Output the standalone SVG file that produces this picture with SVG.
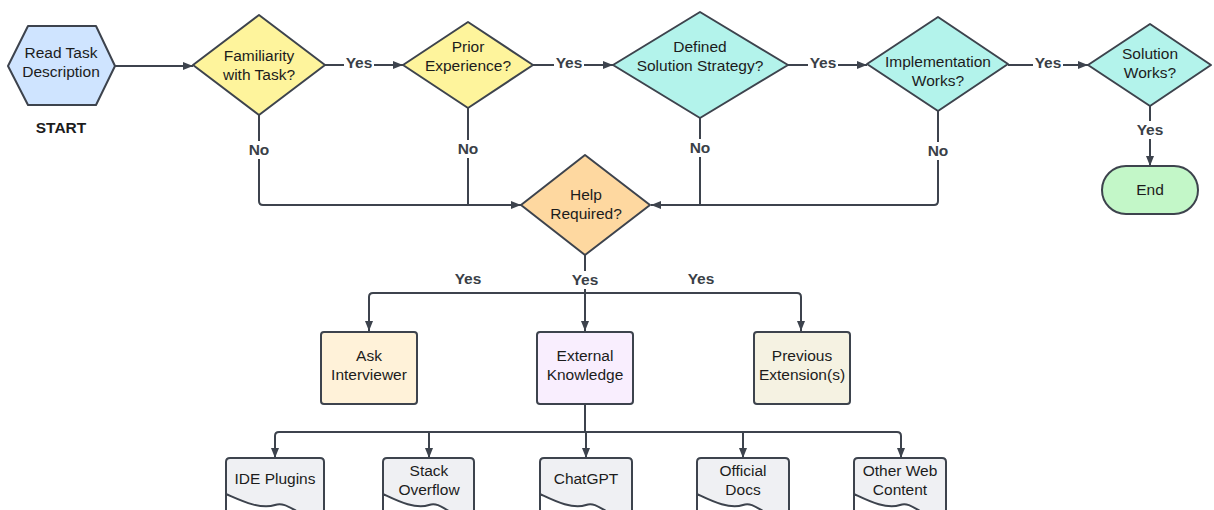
<svg xmlns="http://www.w3.org/2000/svg" width="1214" height="510" viewBox="0 0 1214 510">
<defs>
<marker id="ah" viewBox="0 0 10 10" refX="10" refY="5" markerWidth="10" markerHeight="10" markerUnits="userSpaceOnUse" orient="auto">
<path d="M0,1 L10,5 L0,9 Z" fill="#3d434d"/>
</marker>
<style>
.n{stroke:#3d434d;stroke-width:2;stroke-linejoin:round}
.t{font-family:"Liberation Sans",Arial,sans-serif;font-size:15.5px;fill:#1c1c1c;text-anchor:middle}
.c{fill:none;stroke:#3d434d;stroke-width:2}
.a{marker-end:url(#ah)}
.l{font-family:"Liberation Sans",Arial,sans-serif;font-size:15.5px;font-weight:bold;fill:#3a3f47;text-anchor:middle}
.bg{fill:#fff}
.doc{fill:#eff0f3}
</style>
</defs>
<rect width="1214" height="510" fill="#fff"/>
<g id="connectors">
<path class="c a" d="M115,66 H193"/>
<path class="c a" d="M325,65 H403"/>
<path class="c a" d="M533,65 H613"/>
<path class="c a" d="M788,65 H867"/>
<path class="c a" d="M1008,65 H1088"/>
<path class="c a" d="M1150,106 V166"/>
<path class="c a" d="M259,115 V201 Q259,205 263,205 H521"/>
<path class="c" d="M468,108 V205"/>
<path class="c" d="M700,118 V205"/>
<path class="c a" d="M938,111 V201 Q938,205 934,205 H651"/>
<path class="c" d="M585,255 V293"/>
<path class="c a" d="M585,293 H373 Q369,293 369,297 V331"/>
<path class="c a" d="M585,293 H797 Q801,293 801,297 V331"/>
<path class="c a" d="M585,293 V331"/>
<path class="c" d="M585,404 V432"/>
<path class="c a" d="M585,432 H279 Q275,432 275,436 V458"/>
<path class="c a" d="M585,432 H897 Q901,432 901,436 V458"/>
<path class="c a" d="M429,432 V458"/>
<path class="c a" d="M586,432 V458"/>
<path class="c a" d="M743,432 V458"/>
<rect class="bg" x="344" y="55" width="30" height="18"/><text class="l" x="359" y="68">Yes</text>
<rect class="bg" x="554" y="55" width="30" height="18"/><text class="l" x="569" y="68">Yes</text>
<rect class="bg" x="808" y="55" width="30" height="18"/><text class="l" x="823" y="68">Yes</text>
<rect class="bg" x="1033" y="55" width="30" height="18"/><text class="l" x="1048" y="68">Yes</text>
<rect class="bg" x="1135" y="121" width="30" height="18"/><text class="l" x="1150" y="135">Yes</text>
<rect class="bg" x="246" y="141" width="26" height="18"/><text class="l" x="259" y="155">No</text>
<rect class="bg" x="455" y="140" width="26" height="18"/><text class="l" x="468" y="154">No</text>
<rect class="bg" x="687" y="139" width="26" height="18"/><text class="l" x="700" y="153">No</text>
<rect class="bg" x="925" y="142" width="26" height="18"/><text class="l" x="938" y="156">No</text>
<rect class="bg" x="570" y="271" width="30" height="18"/><text class="l" x="585" y="285">Yes</text>
<text class="l" x="468" y="284">Yes</text>
<text class="l" x="701" y="284">Yes</text>
</g>
<g id="start">
<path class="n" d="M8,66 L28,26 H96 L115,66 L96,105 H28 Z" fill="#cfe4ff"/>
<text class="t" x="61" y="58">Read Task</text>
<text class="t" x="61" y="77">Description</text>
<text class="l" x="61" y="133" style="fill:#1c1c1c">START</text>
</g>
<g id="familiarity">
<path class="n" d="M193,65 L259,15 L325,65 L259,115 Z" fill="#fef49c"/>
<text class="t" x="259" y="61">Familiarity</text>
<text class="t" x="259" y="80">with Task?</text>
</g>
<g id="prior">
<path class="n" d="M403,65 L468,22 L533,65 L468,108 Z" fill="#fef49c"/>
<text class="t" x="468" y="52">Prior</text>
<text class="t" x="468" y="71">Experience?</text>
</g>
<g id="strategy">
<path class="n" d="M613,65 L700,12 L788,65 L700,118 Z" fill="#b3f3eb"/>
<text class="t" x="700" y="52">Defined</text>
<text class="t" x="700" y="71">Solution Strategy?</text>
</g>
<g id="implementation">
<path class="n" d="M867,64 L938,17 L1008,64 L938,111 Z" fill="#b3f3eb"/>
<text class="t" x="938" y="67">Implementation</text>
<text class="t" x="938" y="86">Works?</text>
</g>
<g id="solution">
<path class="n" d="M1088,65 L1150,24 L1211,65 L1150,106 Z" fill="#b3f3eb"/>
<text class="t" x="1150" y="59">Solution</text>
<text class="t" x="1150" y="78">Works?</text>
</g>
<g id="end">
<rect class="n" x="1102" y="166" width="96" height="48" rx="24" fill="#c3f7c8"/>
<text class="t" x="1150" y="195">End</text>
</g>
<g id="help">
<path class="n" d="M521,205 L585,155 L650,205 L585,255 Z" fill="#fed8a0"/>
<text class="t" x="586" y="200">Help</text>
<text class="t" x="586" y="219">Required?</text>
</g>
<g id="ask">
<rect class="n" x="321" y="332" width="96" height="72" rx="3" fill="#fff2d9"/>
<text class="t" x="369" y="361">Ask</text>
<text class="t" x="369" y="380">Interviewer</text>
</g>
<g id="external">
<rect class="n" x="537" y="332" width="96" height="72" rx="3" fill="#f9eefe"/>
<text class="t" x="585" y="361">External</text>
<text class="t" x="585" y="380">Knowledge</text>
</g>
<g id="previous">
<rect class="n" x="754" y="332" width="96" height="72" rx="3" fill="#f5f2e2"/>
<text class="t" x="802" y="361">Previous</text>
<text class="t" x="802" y="380">Extension(s)</text>
</g>
<g id="ide">
<path class="n doc" d="M226,516 V462 Q226,458 230,458 H320 Q324,458 324,462 V516 C300,522 290,500 275,505 C260,510 240,500 226,494"/>
<text class="t" x="275" y="484">IDE Plugins</text>
</g>
<g id="stack">
<path class="n doc" d="M383,516 V462 Q383,458 387,458 H470 Q474,458 474,462 V516 C452,522 443,500 429,505 C415,510 396,500 383,494"/>
<text class="t" x="429" y="476">Stack</text>
<text class="t" x="429" y="495">Overflow</text>
</g>
<g id="chatgpt">
<path class="n doc" d="M540,516 V462 Q540,458 544,458 H628 Q632,458 632,462 V516 C609,522 600,500 586,505 C572,510 553,500 540,494"/>
<text class="t" x="586" y="484">ChatGPT</text>
</g>
<g id="official">
<path class="n doc" d="M697,516 V462 Q697,458 701,458 H785 Q789,458 789,462 V516 C766,522 757,500 743,505 C729,510 710,500 697,494"/>
<text class="t" x="743" y="476">Official</text>
<text class="t" x="743" y="495">Docs</text>
</g>
<g id="other">
<path class="n doc" d="M854,516 V462 Q854,458 858,458 H942 Q946,458 946,462 V516 C923,522 914,500 900,505 C886,510 867,500 854,494"/>
<text class="t" x="900" y="476">Other Web</text>
<text class="t" x="900" y="495">Content</text>
</g>
</svg>
